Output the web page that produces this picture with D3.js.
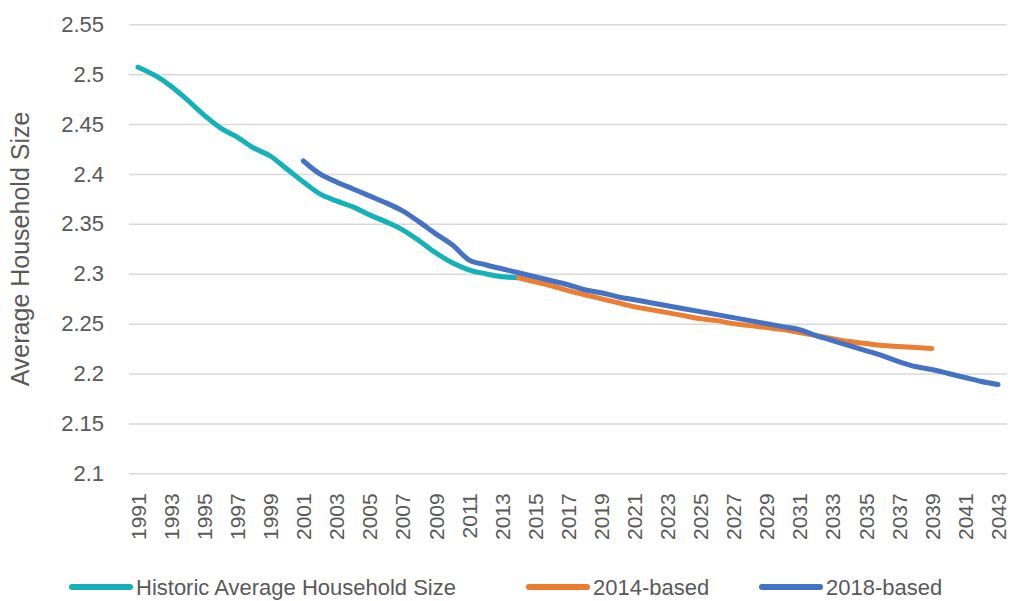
<!DOCTYPE html>
<html>
<head>
<meta charset="utf-8">
<script src="https://cdn.jsdelivr.net/npm/d3@7"></script>
<style>
  body { margin: 0; background: #fff; }
  svg text { font-family: "Liberation Sans", Arial, sans-serif; fill: #595959; }
</style>
</head>
<body>
<svg id="chart" width="1011" height="601"></svg>
<script>
// years on the category axis
var years = d3.range(1991, 2044)
var labelYears = years.filter(function(y){ return (y - 1991) % 2 === 0 })
var yTicks = [2.1, 2.15, 2.2, 2.25, 2.3, 2.35, 2.4, 2.45, 2.5, 2.55]

// Historic Average Household Size, 1991-2014
var historicYears = d3.range(1991, 2015)
var historic = [2.507, 2.499, 2.488, 2.474, 2.459, 2.446, 2.437, 2.426, 2.418, 2.405,
  2.392, 2.380, 2.373, 2.367, 2.359, 2.352, 2.344, 2.333, 2.321, 2.311,
  2.304, 2.300, 2.297, 2.296]

// 2014-based projection, 2014-2039
var based2014Years = d3.range(2014, 2040)
var based2014 = [2.296, 2.292, 2.288, 2.283, 2.279, 2.275, 2.271, 2.267, 2.264, 2.261,
  2.258, 2.255, 2.253, 2.250, 2.248, 2.246, 2.244, 2.241, 2.238, 2.235,
  2.232, 2.230, 2.228, 2.227, 2.226, 2.225]

// 2018-based projection, 2001-2043
var based2018Years = d3.range(2001, 2044)
var based2018 = [2.413, 2.400, 2.392, 2.385, 2.378, 2.371, 2.363, 2.352, 2.340, 2.329,
  2.314, 2.309, 2.305, 2.301, 2.297, 2.293, 2.289, 2.284, 2.281, 2.277,
  2.274, 2.271, 2.268, 2.265, 2.262, 2.259, 2.256, 2.253, 2.250, 2.247,
  2.244, 2.238, 2.233, 2.228, 2.223, 2.218, 2.212, 2.207, 2.204, 2.200,
  2.196, 2.192, 2.189]

var series = [
  { name: 'Historic Average Household Size', color: '#14b1b8', years: historicYears, values: historic },
  { name: '2014-based', color: '#ed7d31', years: based2014Years, values: based2014 },
  { name: '2018-based', color: '#4472c4', years: based2018Years, values: based2018 }
]

var svg = d3.select('#chart')
var plotLeft = 129, plotRight = 1007, plotTop = 24.3, plotBottom = 473.3

var x = d3.scalePoint().domain(years).range([138, 998])
var y = d3.scaleLinear().domain([2.1, 2.55]).range([plotBottom, plotTop])

// gridlines
svg.append('g')
  .attr('transform', 'translate(' + plotLeft + ',0)')
  .call(d3.axisLeft(y).tickValues(yTicks).tickSize(-(plotRight - plotLeft)).tickFormat(''))
  .call(g => g.select('.domain').remove())
  .selectAll('line')
    .attr('stroke', '#d9d9d9')
    .attr('stroke-width', 1.5)

// y labels
svg.append('g')
  .attr('transform', 'translate(104,0)')
  .call(d3.axisLeft(y).tickValues(yTicks).tickSize(0).tickFormat(d => String(+d.toFixed(2))))
  .call(g => g.select('.domain').remove())
  .selectAll('text')
    .attr('x', 0)
    .style('font-size', '22px')
    .attr('fill', '#595959')

// x labels
svg.append('g')
  .attr('transform', 'translate(0,' + plotBottom + ')')
  .call(d3.axisBottom(x).tickValues(labelYears).tickSize(0))
  .call(g => g.select('.domain').remove())
  .selectAll('text')
    .style('font-size', '21px')
    .attr('fill', '#595959')
    .attr('text-anchor', 'end')
    .attr('transform', 'rotate(-90)')
    .attr('x', -20)
    .attr('y', 0)
    .attr('dy', '0.35em')

// y title
svg.append('text')
  .attr('transform', 'translate(29,249) rotate(-90)')
  .attr('text-anchor', 'middle')
  .style('font-size', '25px')
  .text('Average Household Size')

// lines
var line = d3.line()
  .x(d => x(d[0]))
  .y(d => y(d[1]))
  .curve(d3.curveMonotoneX)

svg.selectAll('.series')
  .data(series)
  .enter()
  .append('path')
    .attr('class', 'series')
    .attr('d', s => line(s.years.map((yr, i) => [yr, s.values[i]])))
    .attr('fill', 'none')
    .attr('stroke', s => s.color)
    .attr('stroke-width', 5)
    .attr('stroke-linecap', 'round')
    .attr('stroke-linejoin', 'round')

// legend
var legendX = [72, 529, 762]
var leg = svg.selectAll('.leg')
  .data(series)
  .enter()
  .append('g')
    .attr('class', 'leg')
    .attr('transform', (d, i) => 'translate(' + legendX[i] + ',587)')

leg.append('line')
  .attr('x1', 0).attr('x2', 58)
  .attr('stroke', d => d.color)
  .attr('stroke-width', 6)
  .attr('stroke-linecap', 'round')

leg.append('text')
  .attr('x', 64)
  .attr('dy', '0.35em')
  .style('font-size', '22px')
  .text(d => d.name)
</script>
</body>
</html>
